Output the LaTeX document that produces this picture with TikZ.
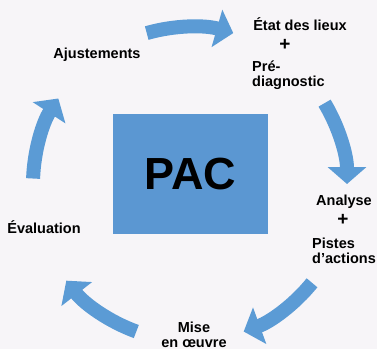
\documentclass[tikz,border=0pt]{standalone}
\usepackage{fontspec}
\setmainfont{Liberation Sans}
\usetikzlibrary{arrows.meta,calc}
\definecolor{pacbg}{HTML}{F7F5F8}
\definecolor{pacblue}{HTML}{5B97D2}
\definecolor{cyclearrow}{HTML}{5B9BD5}

\begin{document}
\begin{tikzpicture}[x=1pt,y=1pt,
  cyclearc/.style={cyclearrow,line width=14pt,-{Triangle[width=38pt,length=17pt]}},
  stage/.style={font=\fontsize{14.5}{14.5}\selectfont\bfseries,inner sep=0pt},
  plus/.style={font=\fontsize{19}{19}\selectfont\bfseries,inner sep=0pt}]
  % Background
  \fill[pacbg] (0,0) rectangle (377,349);
  \useasboundingbox (0,0) rectangle (377,349);
  \coordinate (c) at (190,165);

  % Central box
  \node[fill=pacblue,minimum width=155pt,minimum height=120pt,inner sep=0pt,
        font=\fontsize{45}{45}\selectfont\bfseries] (pac) at (190.5,175) {PAC};

  % Cycle arrows
  \foreach \a/\b [count=\i] in {106/74,31/0,-39/-70,-110/-142,178/147} {
    \coordinate (s\i) at ($(c)+(\a:157)$);
    \draw[cyclearc] (s\i) arc[start angle=\a,end angle=\b,radius=157];
  }

  % Stages
  \node[stage] (ajust) at (97,294.5) {Ajustements};
  \node[stage,anchor=base] (etat) at (300,319) {État des lieux};
  \node[plus] (plus1) at (285,304) {+};
  \node[stage,anchor=north west,align=left] (prediag) at (252,288) {Pré-\\diagnostic};

  \node[stage,anchor=base] (analyse) at (344,144) {Analyse};
  \node[plus] (plus2) at (343,129) {+};
  \node[stage,anchor=north west,align=left] (pistes) at (312,111) {Pistes\\d’actions};

  \node[stage,anchor=north,align=center] (mise) at (194,27) {Mise\\en œuvre};
  \node[stage,anchor=base] (eval) at (44,116) {Évaluation};
\end{tikzpicture}
\end{document}
